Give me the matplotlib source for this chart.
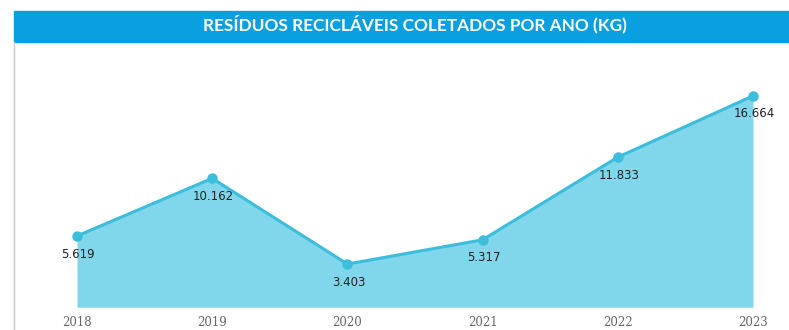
import matplotlib
matplotlib.use("Agg")
import matplotlib.pyplot as plt
from matplotlib.patches import Rectangle
from matplotlib.lines import Line2D

years = [2018, 2019, 2020, 2021, 2022, 2023]
residuos_kg = [5619, 10162, 3403, 5317, 11833, 16664]
rotulos = ["5.619", "10.162", "3.403", "5.317", "11.833", "16.664"]
titulo = "RESÍDUOS RECICLÁVEIS COLETADOS POR ANO (KG)"

W, H = 789, 330
fig = plt.figure(figsize=(W / 100, H / 100), dpi=100)

# Title bar
fig.patches.append(Rectangle((14 / W, 1 - 42 / H), 1 - 14 / W, 31 / H,
                             transform=fig.transFigure, color="#0a9fe0", zorder=0))
fig.text(414.5 / W, 1 - 24 / H, titulo, color="white", fontsize=12.4,
         fontweight="bold", family="Lato", ha="center", va="center")
# Left border line
fig.lines.append(Line2D([14 / W, 14 / W], [0, 1 - 42 / H], transform=fig.transFigure,
                        color="#c8c8c8", lw=1))

# Plot area: x 77..753 px, y 53.6..307.2 px
ax = fig.add_axes([77 / W, 1 - 307.2 / H, (753 - 77) / W, (307.2 - 53.6) / H])
ax.fill_between(years, residuos_kg, 0, color="#80d6eb", lw=0)
ax.plot(years, residuos_kg, color="#3cbddc", lw=2.2, marker="o", ms=6.5,
        clip_on=False, zorder=3)

for x, y, txt in zip(years, residuos_kg, rotulos):
    ax.annotate(txt, (x, y), xytext=(1, -13), textcoords="offset points",
                ha="center", va="center", fontsize=8.5, color="#222222",
                family="DejaVu Sans")

ax.set_xlim(2018, 2023)
ax.set_ylim(0, 20000)
ax.set_xticks(years)
ax.set_xticklabels([str(y) for y in years], color="#666666", fontsize=8.5,
                   family="DejaVu Serif")
ax.tick_params(axis="x", length=0, pad=6)
ax.set_yticks([])
for s in ax.spines.values():
    s.set_visible(False)

fig.savefig("out.png", dpi=100)
